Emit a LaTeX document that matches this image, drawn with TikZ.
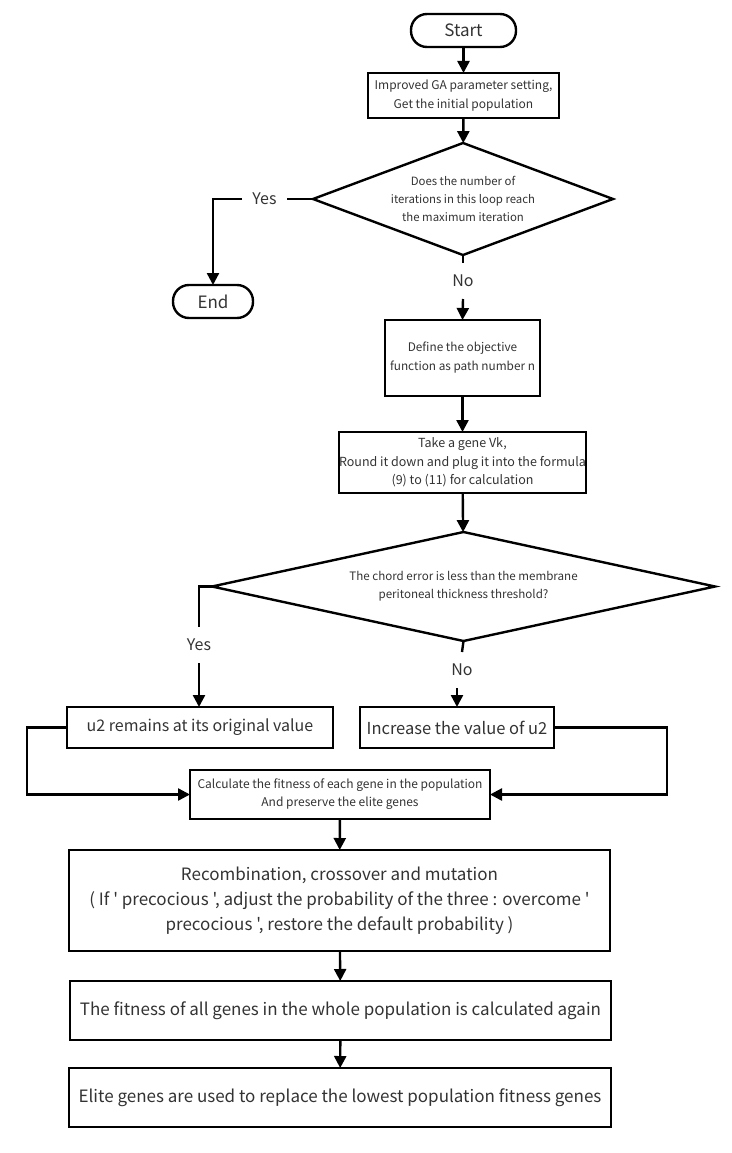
\documentclass[tikz,border=0pt]{standalone}
\usepackage{fontspec}
\setmainfont{Noto Sans CJK SC}
\newfontfamily\nsans{Noto Sans CJK SC}
\usetikzlibrary{arrows.meta,shapes.geometric}
\newcommand\fs[2]{\nsans\fontsize{#1}{#2}\selectfont}
\begin{document}
\begin{tikzpicture}[x=1pt,y=-1pt,
  line width=2.4pt,
  every node/.style={text=black!80, inner sep=0pt, outer sep=0pt},
  arr/.style={-{Triangle[length=12pt,width=12pt]}},
  pill/.style={draw=black, rounded corners=16pt, align=center},
  box/.style={draw=black, align=center},
  dia/.style={draw=black, diamond, align=center},
  vlbl/.style={minimum height=36pt, font=\fs{16}{18}},
  hlbl/.style={minimum width=45pt, font=\fs{16}{18}}
]
\useasboundingbox (0,0) rectangle (731,1153);

\node[pill, minimum width=105pt, minimum height=33pt, font=\fs{17}{18}] (start) at (463.5,30.5) {Start};
\node[box, minimum width=191pt, minimum height=45pt, font=\fs{12}{19}] (b1) at (463.5,95.5) {Improved GA parameter setting,\\Get the initial population};
\node[dia, aspect=2.68, minimum width=300pt, minimum height=112pt, font=\fs{11.4}{18}] (d1) at (463,199) {Does the number of\\iterations in this loop reach\\the maximum iteration};
\node[hlbl] (yes1) at (264.5,199) {Yes};
\node[pill, minimum width=80pt, minimum height=33pt, font=\fs{17}{18}] (end) at (213,301.5) {End};
\node[vlbl] (no1) at (463,281) {No};
\node[box, minimum width=155pt, minimum height=76pt, font=\fs{11.8}{19}] (b2) at (462.5,358) {Define the objective\\function as path number n};
\node[box, minimum width=247pt, minimum height=61pt, font=\fs{12.5}{18.5}] (b3) at (462.5,462.5) {Take a gene Vk,\\Round it down and plug it into the formula\\(9) to (11) for calculation};
\node[dia, aspect=4.6, minimum width=503pt, minimum height=109pt, font=\fs{11.6}{18}] (d2) at (463.5,586.5) {The chord error is less than the membrane\\peritoneal thickness threshold?};
\node[vlbl] (yes2) at (199,645) {Yes};
\node[vlbl] (no2) at (462,670) {No};
\node[box, minimum width=266pt, minimum height=41pt, font=\fs{16}{18}] (b4) at (200,727.5) {u2 remains at its original value};
\node[box, minimum width=194pt, minimum height=41pt, font=\fs{16.5}{18}] (b5) at (457,727.5) {Increase the value of u2};
\node[box, minimum width=300pt, minimum height=49pt, font=\fs{12}{18}] (b6) at (340,794.5) {Calculate the fitness of each gene in the population\\And preserve the elite genes};
\node[box, minimum width=541pt, minimum height=101pt, font=\fs{17}{25}] (b7) at (339.5,900.5) {Recombination, crossover and mutation\\( If ' precocious ', adjust the probability of the three : overcome '\\precocious ', restore the default probability )};
\node[box, minimum width=541pt, minimum height=59pt, font=\fs{17}{18}] (b8) at (340.5,1010.5) {The fitness of all genes in the whole population is calculated again};
\node[box, minimum width=542pt, minimum height=59pt, font=\fs{17}{18}] (b9) at (340,1097.5) {Elite genes are used to replace the lowest population fitness genes};

\draw[arr] (start) -- (b1);
\draw[arr] (b1) -- (d1);
\draw (d1.west) -- (yes1.east);
\draw[arr] (yes1.west) -| (end.north);
\draw (d1.south) -- (no1.north);
\draw[arr] (no1.south) -- (b2.north);
\draw[arr] (b2) -- (b3);
\draw[arr] (b3) -- (d2);
\draw (d2.west) -| (yes2.north);
\draw[arr] (yes2.south) -- (b4.north -| yes2.south);
\draw (d2.south) -- (no2.north);
\draw[arr] (no2.south -| b5.north) -- (b5.north);
\draw[arr] (b4.west) -- ++(-40,0) |- (b6.west);
\draw[arr] (b5.east) -- ++(113,0) |- (b6.east);
\draw[arr] (b6) -- (b7);
\draw[arr] (b7) -- (b8);
\draw[arr] (b8) -- (b9);
\end{tikzpicture}
\end{document}
